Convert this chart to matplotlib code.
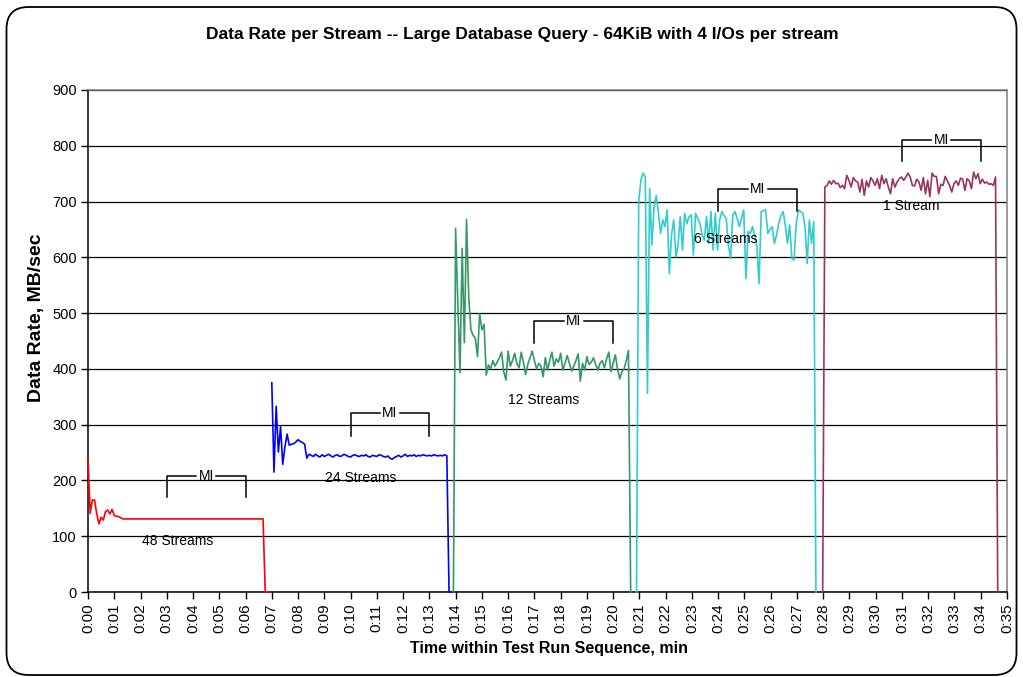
import matplotlib
matplotlib.use("Agg")
import matplotlib.pyplot as plt
from matplotlib.patches import FancyBboxPatch
import numpy as np

plt.rcParams['font.family'] = ['Liberation Sans', 'DejaVu Sans']

# ---------------- data (MB/sec, one sample every 5 s) ----------------
series_names = ["48 Streams", "24 Streams", "12 Streams", "6 Streams", "1 Stream"]
series_start = [0.0, 7.0, 13.917, 20.89, 27.98]   # minutes
sample_step = 1.0 / 12.0                           # minutes (5 s)

red_vals = [240, 141, 165, 165, 140, 122, 134, 129, 144, 147, 140, 148, 137, 136, 135, 133,
            131, 131, 131, 131, 131, 131, 131, 131, 131, 131, 131, 131, 131, 131, 131, 131,
            131, 131, 131, 131, 131, 131, 131, 131, 131, 131, 131, 131, 131, 131, 131, 131,
            131, 131, 131, 131, 131, 131, 131, 131, 131, 131, 131, 131, 131, 131, 131, 131,
            131, 131, 131, 131, 131, 131, 131, 131, 131, 131, 131, 131, 131, 131, 131, 131,
            131, 0, 0, 0]

blue_vals = [375, 215, 333, 251, 297, 229, 260, 283, 263, 265, 266, 269, 273, 270, 268, 265,
             240, 247,
             245, 243, 247, 244, 242, 246, 243, 245, 247, 244,
             242, 245, 246, 243, 244, 247, 245, 243, 242, 245,
             246, 244, 243, 245, 244, 246, 243, 242, 245, 244,
             243, 246, 245, 243, 242, 244, 240, 238, 241, 243,
             245, 242, 244, 247, 243, 245, 244, 246, 243, 245,
             244, 246, 245, 244, 245, 244, 246, 245, 244, 245,
             244, 246, 244, 0, 0, 0]

green_vals = [0, 652, 520, 393, 616, 447, 668, 529, 470, 460, 455, 422, 499, 470, 480, 389,
              407, 400, 415, 405, 412, 420, 430, 395, 380, 432, 405, 415, 428, 410, 402, 430,
              412, 390, 408, 420, 432, 415, 400, 410, 405, 386, 420, 398, 415, 430, 405, 418,
              412, 428, 398, 410, 424, 410, 396, 405, 415, 427, 378, 410, 398, 422, 408, 412,
              420, 408, 398, 410, 415, 402, 418, 430, 395, 410, 425, 400, 382, 395, 400, 415,
              433, 0]

cyan_vals = [0, 700, 738, 751, 745, 356, 723, 622, 690, 711, 680, 643, 667, 655, 685, 571,
             640, 667, 601, 622, 673, 613, 679, 660, 673, 676, 604, 679, 670, 661, 640, 631,
             673, 625, 682, 613, 679, 613, 667, 682, 675, 670, 622, 598, 676, 682, 670, 655,
             670, 685, 562, 646, 643, 655, 637, 620, 553, 682, 684, 685, 643, 650, 655, 625,
             640, 661, 675, 682, 658, 625, 658, 598, 595, 661, 685, 682, 679, 655, 589, 667,
             625, 664, 0]

purple_vals = [0, 726, 729, 737, 731, 738, 732, 733, 725, 729, 723, 747, 738, 726, 743, 737,
               735, 717, 740, 711, 737, 726, 743, 737, 729, 741, 723, 747, 732, 741, 726, 714,
               741, 726, 735, 741, 744, 738, 744, 751, 744, 729, 728, 740, 735, 720, 743, 714,
               738, 709, 751, 745, 745, 714, 731, 729, 745, 737, 729, 717, 732, 737, 729, 742,
               740, 720, 741, 737, 723, 753, 741, 750, 732, 740, 733, 735, 731, 732, 729, 744,
               0]

series_values = [red_vals, blue_vals, green_vals, cyan_vals, purple_vals]
series_colors = ["#FF0000", "#0000FF", "#339966", "#33CCCC", "#993366"]

# measurement-interval brackets
mi_start = [3, 10, 17, 24, 31]
mi_end = [6, 13, 20, 27, 34]
mi_top = [208, 321, 486, 722, 811]
mi_bottom = [170, 280, 447, 683, 772]

# stream labels
label_x = [3.42, 10.4, 17.37, 24.3, 31.37]
label_y = [91, 204, 345, 632, 692]

x_ticks = list(range(0, 36))
x_tick_labels = ["0:%02d" % m for m in x_ticks]
y_ticks = [0, 100, 200, 300, 400, 500, 600, 700, 800, 900]

title = "Data Rate per Stream -- Large Database Query - 64KiB with 4 I/Os per stream"

# ---------------- figure ----------------
W, H = 1023, 677
fig = plt.figure(figsize=(W / 100, H / 100), dpi=100)
ax = fig.add_axes([88 / W, 1 - 592 / H, (1007 - 88) / W, (592 - 90) / H])

for vals, start, col in zip(series_values, series_start, series_colors):
    t = start + np.arange(len(vals)) * sample_step
    ax.plot(t, vals, color=col, lw=1.2, clip_on=False, zorder=3)

gap = 0.38
for x0, x1, yt, yb in zip(mi_start, mi_end, mi_top, mi_bottom):
    xm = (x0 + x1) / 2
    ax.plot([x0, x0, xm - gap], [yb, yt, yt], color="black", lw=1.1, zorder=4)
    ax.plot([xm + gap, x1, x1], [yt, yt, yb], color="black", lw=1.1, zorder=4)
    ax.text(xm, yt, "MI", ha="center", va="center", fontsize=10, zorder=5)

for name, lx, ly in zip(series_names, label_x, label_y):
    ax.text(lx, ly, name, ha="center", va="center", fontsize=10, zorder=5)

ax.set_xlim(0, 35)
ax.set_ylim(0, 900)
ax.set_xticks(x_ticks)
ax.set_xticklabels(x_tick_labels, rotation=90, fontsize=11)
ax.set_yticks(y_ticks)
ax.set_yticklabels([str(v) for v in y_ticks], fontsize=10.5)
ax.tick_params(axis="both", direction="out", length=5, width=1, color="black", pad=3)

ax.yaxis.grid(True, color="black", lw=0.9)
ax.set_axisbelow(True)
for s in ["left", "bottom"]:
    ax.spines[s].set_color("black")
    ax.spines[s].set_linewidth(1.1)
for s in ["top", "right"]:
    ax.spines[s].set_color("#808080")
    ax.spines[s].set_linewidth(1.1)

fig.text(549 / W, 1 - 648 / H, "Time within Test Run Sequence, min",
         ha="center", va="center", fontsize=11.5, fontweight="bold")
fig.text(37 / W, 1 - 318 / H, "Data Rate, MB/sec", rotation=90,
         ha="center", va="center", fontsize=14, fontweight="bold")

fig.text(522 / W, 1 - 34 / H, title, ha="center", va="center", fontsize=12.5, fontweight="bold")

border = FancyBboxPatch((0.065, 0.02), 10.1, 6.68,
                        boxstyle="round,pad=0,rounding_size=0.22",
                        transform=fig.dpi_scale_trans, fill=False,
                        edgecolor="black", lw=1.3, zorder=0)
fig.patches.append(border)

fig.savefig("out.png", dpi=100)
